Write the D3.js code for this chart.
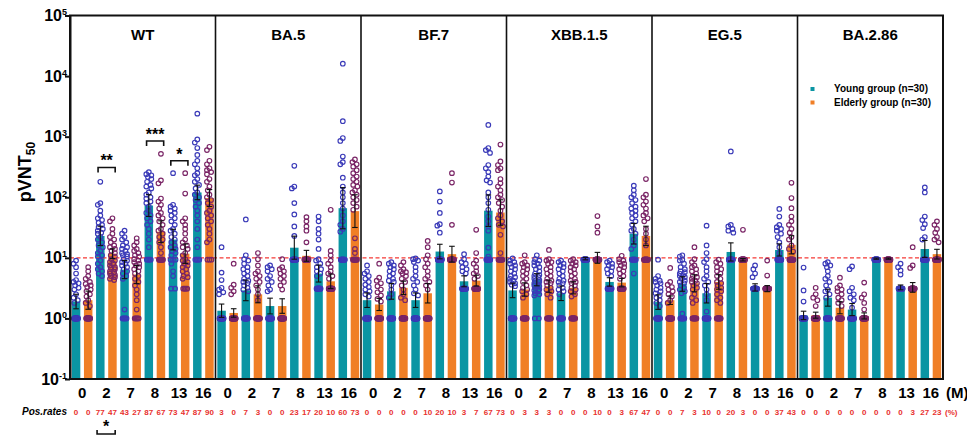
<!DOCTYPE html>
<html>
<head>
<meta charset="utf-8">
<title>pVNT50 by variant</title>
<script src="https://d3js.org/d3.v7.min.js"></script>
<style>
body { margin: 0; background: #fff; }
text { font-family: 'Liberation Sans', Arial, sans-serif; font-weight: bold; }
</style>
</head>
<body>
<div id="chart"></div>
<script>
// ---- data ----
var variants = ["WT", "BA.5", "BF.7", "XBB.1.5", "EG.5", "BA.2.86"];
var months = ["0", "2", "7", "8", "13", "16"];
var lodByMonth = [1, 1, 1, 9.3, 3.1, 9.3];   // value of the detection-limit row
var nPerGroup = 30;
var cutoff = 10;

// bar heights (geometric mean) per variant, per month
var gmtYoung = [
  [1.9, 23, 6.4, 73, 20, 120],
  [1.34, 2.9, 1.6, 14.7, 5.5, 66],
  [2.0, 2.8, 2.0, 12.7, 4.1, 60],
  [2.9, 4.35, 2.6, 9.7, 4.0, 25],
  [1.86, 3.7, 2.6, 12.5, 3.25, 13.5],
  [1.12, 2.2, 1.4, 9.7, 3.25, 14]
];
var gmtElderly = [
  [2.0, 11.7, 5.3, 27, 11.7, 97],
  [1.23, 2.5, 1.6, 10.8, 4.1, 59],
  [1.7, 3.2, 2.6, 11.5, 4.2, 56],
  [3.0, 3.4, 3.2, 10, 3.9, 23],
  [2.0, 3.8, 4.0, 9.3, 3.1, 16.4],
  [1.13, 1.5, 1.1, 9.7, 3.25, 11.5]
];
// error bar half-width, in log10 units
var errYoung = [
  [0.12, 0.16, 0.15, 0.18, 0.17, 0.12],
  [0.11, 0.17, 0.13, 0.19, 0.14, 0.34],
  [0.12, 0.13, 0.12, 0.12, 0.09, 0.26],
  [0.12, 0.10, 0.12, 0.02, 0.07, 0.17],
  [0.12, 0.12, 0.16, 0.15, 0.06, 0.10],
  [0.07, 0.14, 0.10, 0.01, 0.04, 0.14]
];
var errElderly = [
  [0.15, 0.08, 0.15, 0.18, 0.16, 0.14],
  [0.07, 0.14, 0.12, 0.09, 0.12, 0.27],
  [0.10, 0.11, 0.16, 0.13, 0.09, 0.21],
  [0.11, 0.10, 0.10, 0.09, 0.07, 0.16],
  [0.07, 0.14, 0.12, 0.02, 0.05, 0.15],
  [0.05, 0.10, 0.05, 0.01, 0.08, 0.08]
];
// positive rates (%), young/elderly alternating per month
var posRates = [
  [0, 0, 77, 47, 43, 27, 87, 67, 73, 47, 87, 90],
  [3, 0, 7, 3, 0, 0, 23, 17, 20, 10, 60, 73],
  [0, 0, 0, 0, 0, 10, 20, 10, 3, 7, 67, 73],
  [0, 3, 3, 3, 0, 0, 0, 10, 0, 3, 67, 47],
  [0, 0, 7, 3, 10, 0, 20, 3, 0, 0, 37, 43],
  [0, 0, 0, 0, 0, 0, 0, 0, 0, 3, 27, 23]
];
// individual titres above the detection limit; the rest of the 30 sit on the limit
var youngPts = [
  [[9, 8, 7, 5.5, 4.3, 4, 3.8, 3.5, 3.2, 3, 2.5, 2.2, 2, 1.8],
   [180, 80, 75, 60, 50, 45, 42, 38, 35, 32, 30, 28, 26, 25, 22, 20, 18, 16, 15, 13, 12, 11, 10.5, 9, 8, 7, 6.5, 6, 5.5, 5],
   [28, 25, 22, 20, 18, 16, 15, 14, 13, 12, 11.5, 11, 10.5, 9.5, 9, 8.5, 8, 7.5, 7, 6.5, 6, 5.5, 5, 4.5, 1.4],
   [260, 240, 230, 215, 200, 180, 160, 150, 140, 120, 110, 100, 95, 85, 80, 70, 60, 55, 50, 45, 40, 35, 30, 25, 20, 15],
   [250, 75, 70, 65, 60, 55, 50, 45, 40, 35, 30, 28, 25, 22, 20, 18, 16, 15, 14, 13, 12, 11, 9.3, 9.3, 9.3, 8, 6, 5],
   [2400, 900, 800, 650, 500, 400, 350, 300, 250, 230, 200, 180, 160, 140, 120, 110, 100, 90, 80, 70, 60, 50, 40, 30, 20, 15]],
  [[15, 5.7, 4.3, 3.2, 3, 2.7, 2.5],
   [43, 11, 9.5, 9, 8, 7, 6.5, 6, 5.5, 5, 4.5, 4.2, 4, 3.8, 3.5, 3.2, 3, 2.8],
   [7.5, 7, 6.5, 6, 5, 4.5, 4, 3.5, 3, 2.8],
   [330, 150, 140, 80, 52, 33, 23],
   [48, 40, 30, 25, 20, 14, 9.5, 9, 8, 7, 6.5, 6, 5.5, 5],
   [16000, 1800, 950, 850, 470, 380, 350, 210, 150, 120, 100, 80, 65, 50, 40, 35, 30, 27]],
  [[7.5, 6, 5.5, 5, 4.5, 4, 3.6, 3.3, 3, 2.8, 2.5, 2.3],
   [8.5, 8, 7.5, 7, 6.5, 6, 5.5, 5, 4.5, 4.2, 4, 3.5, 3, 2.5, 2.2],
   [9.8, 9.5, 9, 8.5, 7, 6, 5, 4.5, 4, 3.5, 3, 2.6, 2.4],
   [125, 85, 55, 36, 34, 26],
   [11.5, 9.5, 8.5, 8, 7, 6.5, 6, 5.5],
   [1560, 650, 600, 540, 340, 300, 260, 220, 190, 175, 120, 100, 80, 62, 48, 40, 33, 28, 14.7, 10.5]],
  [[9.8, 9, 8.5, 8, 7.5, 7, 6.5, 6, 5.5, 5, 4.8, 4.5, 4.2, 4, 3.8, 3.6, 3.4],
   [11, 9.5, 9, 8.5, 8, 7.5, 7, 6.5, 6, 5.5, 5.2, 5, 4.8, 4.5, 4.3, 4.1, 4, 3.8, 3.6, 3.5, 3.4, 3.2, 3, 2.9, 2.8, 2.6, 2.5, 2.4],
   [9, 8.5, 8, 7.5, 7, 6.5, 6, 5.5, 5, 4.5, 4.2, 4, 3.8, 3.5, 3.2, 3, 2.8, 2.5],
   [],
   [9, 8.5, 8, 7.5, 7, 6.5, 6, 5.5, 5],
   [155, 130, 110, 100, 90, 80, 70, 65, 60, 55, 50, 45, 40, 35, 30, 28, 25, 20, 16, 14, 5.5]],
  [[9.3, 5, 4.5, 4.2, 4, 3.8, 3.5, 3.2, 3, 2.8, 2.6, 2.4, 2.2, 2, 1.8, 1.6],
   [11, 10.5, 9.3, 9, 8, 7, 6.5, 6, 5.8, 5.5, 5.2, 5, 4.8, 4.5, 4.2, 4, 3.8, 3.5, 3.2, 3, 2.8, 2.6, 1.2],
   [34, 16, 12, 9.5, 8.5, 7, 6, 5, 4.5, 4, 3.5, 3, 2.5, 2, 1.3],
   [570, 35, 33, 30, 28, 26],
   [7.5, 6.5, 5.5, 4.8],
   [64, 48, 35, 32, 30, 28, 25, 22, 18, 15, 12]],
  [[6.9, 2.9, 1.9],
   [8.5, 8, 7.5, 7, 6, 5, 4.5, 4, 3.5, 3, 2.8, 2.5, 2.2],
   [7.2, 6.5, 3.2, 2.8, 2.5, 2.2, 2, 1.5],
   [],
   [8, 7, 6.2, 5.3],
   [145, 120, 48, 42, 36, 31, 22, 20]]
];
var elderlyPts = [
  [[7, 6, 5, 4.5, 4, 3.7, 3.5, 3.3, 3, 2.8, 2.5, 2.3, 2, 1.8, 1.6],
   [45, 40, 30, 25, 22, 20, 18, 16, 15, 14, 13, 12, 11, 10.5, 9.5, 9, 8.5, 8, 7.5, 7, 6.8, 6.5, 6, 5.8, 5.5, 5.2, 5, 4.8, 4.5, 4.3],
   [21, 18, 16, 14, 13, 12, 11, 10.5, 9.5, 9, 8.5, 8, 7.5, 7, 6.5, 6, 5.5, 5, 4.5, 4, 3.5, 3, 2.5, 2, 1.4],
   [520, 190, 170, 95, 85, 75, 65, 55, 50, 45, 40, 35, 30, 28, 25, 22, 20, 18, 15, 12],
   [250, 115, 45, 40, 35, 30, 25, 20, 18, 16, 15, 14, 12, 11, 9.5, 9, 8.5, 8, 7.5, 7, 6.5, 6, 5.5, 5, 4.8, 4.5],
   [680, 600, 400, 350, 300, 280, 260, 240, 200, 180, 150, 130, 110, 100, 90, 80, 70, 60, 55, 50, 45, 40, 35, 30, 25, 20, 18]],
  [[8, 3.6, 3.2, 2.8, 2.5],
   [12, 9.5, 7.5, 6, 5.5, 5, 4.5, 4, 3.5, 3, 2.5, 2],
   [9.5, 7, 6.5, 6, 5.5, 5, 4.5, 4, 3.5, 3],
   [47, 40, 33, 28, 18],
   [62, 13, 11, 9, 8, 7, 6, 5.5, 5, 4.5],
   [420, 380, 350, 320, 280, 250, 220, 200, 180, 160, 150, 130, 120, 110, 100, 90, 80, 70, 62, 21, 14, 12]],
  [[8, 4.7, 4.2, 3.8, 3.4, 3, 2.7, 2.4, 2.1, 1.9],
   [8.5, 7.5, 6.5, 6, 5.8, 5.5, 5, 4.5, 4, 3.5, 3, 2.5, 2.2, 2],
   [19, 15, 11, 9.5, 8, 7, 6, 5, 4.5, 4, 3.5, 3],
   [250, 175, 35],
   [29, 12, 9, 8, 7, 6, 5.5, 5, 4.5],
   [740, 390, 340, 300, 280, 200, 170, 150, 130, 110, 100, 90, 80, 70, 60, 50, 45, 40, 35, 33, 24, 12]],
  [[11, 8.5, 8, 7.5, 7, 6.5, 6, 5.5, 5, 4.5, 4, 3.5, 3.2, 3, 2.8, 2.5, 2.2],
   [13.5, 9.5, 9, 8.5, 8, 7, 6.5, 6, 5.5, 5, 4.5, 4.2, 4, 3.8, 3.5, 3.2, 3, 2.8, 2.5, 2.2],
   [9.5, 9, 8.5, 8, 7.5, 7, 6.5, 6, 5.5, 5, 4.5, 4.2, 4, 3.8, 3.5, 3.2, 3, 2.8, 2.5, 2.3],
   [49, 33, 26],
   [10.8, 9.5, 9, 8.5, 8, 7.5, 7, 6.5, 6, 5.5, 5, 4.5],
   [200, 110, 100, 85, 75, 65, 55, 50, 45, 40, 30, 25, 20, 16]],
  [[6.8, 4, 3.6, 3.3, 3, 2.8, 2.5, 2.3, 2, 1.8],
   [15, 9.5, 8.5, 7.5, 7, 6.5, 6, 5.5, 5, 4.8, 4.5, 4.2, 4, 3.8, 3.5, 3.2, 3, 2.5, 2.2, 2, 1.8],
   [9.3, 8.5, 8, 7, 6.5, 6, 5.5, 5, 4.5, 4, 3.8, 3.5, 3.2, 3, 2.8, 2.5, 2.2, 2, 1.8],
   [29],
   [9, 5.1],
   [173, 97, 66, 48, 40, 35, 30, 26, 22, 20, 16, 14, 12.7]],
  [[3.2, 2.5, 2.2, 2, 1.6],
   [4.7, 3.5, 3.2, 3, 2.8, 2.5, 2.2, 2, 1.8, 1.6],
   [3.9, 2.5, 2.2, 1.8, 1.4],
   [],
   [15, 7.5, 6.8],
   [40, 35, 30, 26, 22, 20, 18]]
];
// significance marks (WT panel): month index, stars, bracket level
var sigTop = [
  {variant: 0, month: 1, label: "**", level: 310},
  {variant: 0, month: 3, label: "***", level: 850},
  {variant: 0, month: 4, label: "*", level: 400}
];
var sigBottom = [{variant: 0, month: 1, label: "*"}];
var legendLabels = ["Young group (n=30)", "Elderly group (n=30)"];

// ---- layout ----
var width = 967, height = 437;
var plotLeft = 70, plotRight = 943, plotTop = 15.5, plotBottom = 379;
var teal = "#0a95a3", orange = "#f07f26";
var youngDot = "#3a3ab8", elderDot = "#7a2566";

var svg = d3.select("#chart").append("svg")
  .attr("width", width).attr("height", height);

var y = d3.scaleLog().domain([0.1, 1e5]).range([plotBottom, plotTop]);
var panel = d3.scaleBand().domain(variants).range([plotLeft, plotRight]);
var pw = panel.bandwidth();
var bar = d3.scaleBand().domain(d3.range(12)).range([0, pw])
  .paddingInner(0.3).paddingOuter(0.15);
var bw = bar.bandwidth();

function barX(v, i) { return panel(variants[v]) + bar(i); }

// bars
variants.forEach(function(name, v) {
  months.forEach(function(m, k) {
    [[gmtYoung, teal], [gmtElderly, orange]].forEach(function(s, g) {
      svg.append("rect")
        .attr("x", barX(v, k * 2 + g))
        .attr("y", y(s[0][v][k]))
        .attr("width", bw)
        .attr("height", plotBottom - y(s[0][v][k]))
        .attr("fill", s[1]);
    });
  });
});

// cutoff line
svg.append("line")
  .attr("x1", plotLeft).attr("x2", plotRight)
  .attr("y1", y(cutoff)).attr("y2", y(cutoff))
  .attr("stroke", "#f53a36").attr("stroke-width", 1.4)
  .attr("stroke-dasharray", "4,2.5");

// dots: narrow beeswarm around the bar centre, overlap allowed
var r = 2.3;
function swarm(vals, cx) {
  var cand = [0, -1.7, 1.7, -0.9, 0.9, -2.5, 2.5];
  var out = [];
  vals.forEach(function(val) {
    var py = y(val), best = 0, bestOv = Infinity;
    for (var c = 0; c < cand.length; c++) {
      var ov = 0;
      out.forEach(function(p) {
        var d = Math.hypot(p.x - (cx + cand[c]), p.y - py);
        if (d < 2 * r - 0.6) ov += 2 * r - 0.6 - d;
      });
      if (ov < bestOv) { bestOv = ov; best = cand[c]; }
      if (ov === 0) break;
    }
    out.push({x: cx + best, y: py});
  });
  return out;
}

variants.forEach(function(name, v) {
  months.forEach(function(m, k) {
    [[youngPts, youngDot], [elderlyPts, elderDot]].forEach(function(s, g) {
      var cx = barX(v, k * 2 + g) + bw / 2;
      var vals = s[0][v][k];
      var nLod = nPerGroup - vals.length;
      var lod = d3.range(nLod).map(function(i) {
        var t = nLod > 1 ? i / (nLod - 1) - 0.5 : 0;
        return {x: cx + t * 4, y: y(lodByMonth[k])};
      });
      var pts = lod.concat(swarm(vals, cx));
      svg.append("g").selectAll("circle").data(pts).enter().append("circle")
        .attr("cx", function(d) { return d.x; })
        .attr("cy", function(d) { return d.y; })
        .attr("r", r)
        .attr("fill", "none")
        .attr("stroke", s[1])
        .attr("stroke-width", 1.15);
    });
  });
});

// error bars
variants.forEach(function(name, v) {
  months.forEach(function(m, k) {
    [[gmtYoung, errYoung], [gmtElderly, errElderly]].forEach(function(s, g) {
      var cx = barX(v, k * 2 + g) + bw / 2;
      var gm = s[0][v][k], e = s[1][v][k];
      var y1 = y(gm * Math.pow(10, e)), y0 = y(gm / Math.pow(10, e));
      var eb = svg.append("g").attr("stroke", "#111").attr("stroke-width", 1.1);
      eb.append("line").attr("x1", cx).attr("x2", cx).attr("y1", y1).attr("y2", y0);
      eb.append("line").attr("x1", cx - 2.8).attr("x2", cx + 2.8).attr("y1", y1).attr("y2", y1);
      eb.append("line").attr("x1", cx - 2.8).attr("x2", cx + 2.8).attr("y1", y0).attr("y2", y0);
    });
  });
});

// frame and panel dividers
svg.append("rect")
  .attr("x", plotLeft).attr("y", plotTop)
  .attr("width", plotRight - plotLeft).attr("height", plotBottom - plotTop)
  .attr("fill", "none").attr("stroke", "#111").attr("stroke-width", 2);
svg.selectAll(".divider").data(variants.slice(1)).enter().append("line")
  .attr("x1", function(d) { return panel(d); })
  .attr("x2", function(d) { return panel(d); })
  .attr("y1", plotTop).attr("y2", plotBottom)
  .attr("stroke", "#111").attr("stroke-width", 1.6);

// panel titles
svg.selectAll(".title").data(variants).enter().append("text")
  .attr("x", function(d) { return panel(d) + pw / 2; })
  .attr("y", 39.5)
  .attr("text-anchor", "middle")
  .style("font-size", "15px")
  .text(function(d) { return d; });

// y axis
var yTicks = [0.1, 1, 10, 100, 1000, 10000, 100000];
var yAxis = svg.append("g")
  .attr("transform", "translate(" + plotLeft + ",0)")
  .call(d3.axisLeft(y).tickValues(yTicks).tickSize(5).tickSizeOuter(0).tickFormat(""));
yAxis.select(".domain").attr("stroke-width", 2).attr("stroke", "#111");
yAxis.selectAll(".tick line").attr("stroke-width", 2).attr("stroke", "#111");
yTicks.forEach(function(t) {
  var lab = svg.append("text")
    .attr("x", 67).attr("y", y(t) + 5.5)
    .attr("text-anchor", "end")
    .style("font-size", "16px");
  lab.append("tspan").text("10");
  lab.append("tspan").attr("dy", -6).style("font-size", "9px").text(Math.round(Math.log10(t)));
});

// y title
var yt = svg.append("text")
  .attr("transform", "translate(31,172) rotate(-90)")
  .attr("text-anchor", "middle")
  .style("font-size", "18px");
yt.append("tspan").text("pVNT");
yt.append("tspan").attr("dy", 4).style("font-size", "12px").text("50");

// month labels and positive rates
variants.forEach(function(name, v) {
  months.forEach(function(m, k) {
    var cx = panel(name) + (bar(k * 2) + bar(k * 2 + 1) + bw) / 2;
    svg.append("text")
      .attr("x", cx).attr("y", 398)
      .attr("text-anchor", "middle")
      .style("font-size", "15px")
      .text(m);
  });
  posRates[v].forEach(function(p, i) {
    svg.append("text")
      .attr("x", barX(v, i) + bw / 2).attr("y", 415)
      .attr("text-anchor", "middle")
      .attr("fill", "#e8302e")
      .style("font-size", "8px")
      .text(p);
  });
});
svg.append("text").attr("x", 946).attr("y", 398).style("font-size", "15px").text("(M)");
svg.append("text").attr("x", 945).attr("y", 415).attr("fill", "#e8302e")
  .style("font-size", "8px").text("(%)");
svg.append("text").attr("x", 67).attr("y", 415)
  .attr("text-anchor", "end")
  .style("font-size", "10px").style("font-style", "italic")
  .text("Pos.rates");

// significance brackets
sigTop.forEach(function(s) {
  var x1 = barX(s.variant, s.month * 2) + 2;
  var x2 = barX(s.variant, s.month * 2 + 1) + bw - 1.5;
  var by = y(s.level);
  svg.append("path")
    .attr("d", "M" + x1 + "," + (by + 5) + "V" + by + "H" + x2 + "V" + (by + 5))
    .attr("fill", "none").attr("stroke", "#111").attr("stroke-width", 1.6);
  svg.append("text")
    .attr("x", (x1 + x2) / 2).attr("y", by - 1)
    .attr("text-anchor", "middle")
    .style("font-size", "16px")
    .text(s.label);
});
sigBottom.forEach(function(s) {
  var x1 = barX(s.variant, s.month * 2) + 1;
  var x2 = barX(s.variant, s.month * 2 + 1) + bw - 1.5;
  var by = 434;
  svg.append("path")
    .attr("d", "M" + x1 + "," + (by - 4) + "V" + by + "H" + x2 + "V" + (by - 4))
    .attr("fill", "none").attr("stroke", "#111").attr("stroke-width", 1.6);
  svg.append("text")
    .attr("x", (x1 + x2) / 2).attr("y", 432)
    .attr("text-anchor", "middle")
    .style("font-size", "16px")
    .text(s.label);
});

// legend
legendLabels.forEach(function(l, i) {
  svg.append("rect")
    .attr("x", 810.5).attr("y", 87 + i * 13.5)
    .attr("width", 4).attr("height", 4)
    .attr("fill", i === 0 ? teal : orange);
  svg.append("text")
    .attr("x", 834).attr("y", 92 + i * 13.5)
    .style("font-size", "10px")
    .text(l);
});
</script>
</body>
</html>
